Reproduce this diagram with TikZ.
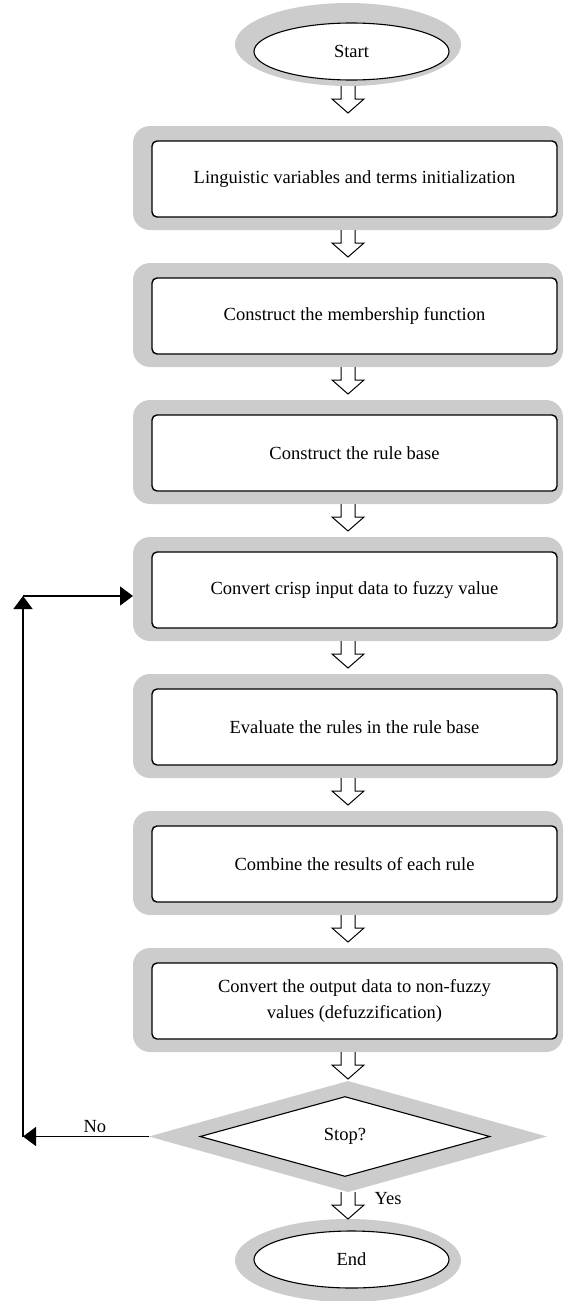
\documentclass[tikz,border=0pt]{standalone}
\usepackage{fontspec}
\setmainfont{Liberation Serif}
\usepackage{tikz}
\usetikzlibrary{positioning,arrows.meta,shapes.geometric}

\tikzset{
  shell/.style={fill=gray!40, draw=none, inner sep=0pt, outer sep=0pt},
  boxshell/.style={shell, rectangle, rounded corners=17pt, minimum width=430pt, minimum height=104pt},
  termshell/.style={shell, ellipse, minimum width=226pt, minimum height=83pt},
  testshell/.style={shell, diamond, minimum width=398pt, minimum height=111pt},
  stepbox/.style={rectangle, draw, line width=1.4pt, fill=white, rounded corners=5pt,
    minimum width=405pt, minimum height=76pt, align=center},
  termbox/.style={ellipse, draw, line width=1.1pt, fill=white, minimum width=195pt, minimum height=57pt},
  testbox/.style={diamond, draw, line width=1.1pt, fill=white, inner sep=0pt,
    minimum width=290pt, minimum height=80pt},
  hollow/.style={draw, fill=white, line width=1pt,
    to path={(\tikztostart) ++(-7,0) -- ++(0,13) -- ++(-9,0) -- ++(16,14) -- ++(16,-14) -- ++(-9,0) -- ++(0,-13)}},
  back/.style={-{Triangle[length=13pt,width=19pt]}, line width=1.2pt}
}

\begin{document}
\begin{tikzpicture}[x=1pt, y=-1pt, font=\fontsize{18.5}{26}\selectfont]
  \useasboundingbox (0,0) rectangle (563,1301);

  % grey backings of the steps
  \node (startshell) [termshell] at (348,44.5) {};
  \node (s1) [boxshell, below=40pt of startshell] {};
  \node (s2) [boxshell, below=33pt of s1] {};
  \node (s3) [boxshell, below=33pt of s2] {};
  \node (s4) [boxshell, below=33pt of s3] {};
  \node (s5) [boxshell, below=33pt of s4] {};
  \node (s6) [boxshell, below=33pt of s5] {};
  \node (s7) [boxshell, below=33pt of s6] {};
  \node (stopshell) [testshell, below=29pt of s7] {};
  \node (endshell) [termshell, below=27pt of stopshell] {};

  % the steps themselves
  \node (start) [termbox] at ([xshift=3.5pt, yshift=-7pt]startshell) {Start};
  \node (init) [stepbox] at ([xshift=6.5pt, yshift=-1pt]s1) {Linguistic variables and terms initialization};
  \node (member) [stepbox] at ([xshift=6.5pt, yshift=-1pt]s2) {Construct the membership function};
  \node (rules) [stepbox] at ([xshift=6.5pt, yshift=-1pt]s3) {Construct the rule base};
  \node (fuzzify) [stepbox] at ([xshift=6.5pt, yshift=-1pt]s4) {Convert crisp input data to fuzzy value};
  \node (evaluate) [stepbox] at ([xshift=6.5pt, yshift=-1pt]s5) {Evaluate the rules in the rule base};
  \node (combine) [stepbox] at ([xshift=6.5pt, yshift=-1pt]s6) {Combine the results of each rule};
  \node (defuzzify) [stepbox] at ([xshift=6.5pt, yshift=-1pt]s7) {Convert the output data to non-fuzzy\\values (defuzzification)};
  \node (stop) [testbox] at ([xshift=-3pt]stopshell) {Stop?};
  \node (end) [termbox] at ([xshift=3.5pt, yshift=1pt]endshell) {End};

  % hollow arrows down the chain
  \path (startshell.south) edge [hollow] (s1.north);
  \path (s1.south) edge [hollow] (s2.north);
  \path (s2.south) edge [hollow] (s3.north);
  \path (s3.south) edge [hollow] (s4.north);
  \path (s4.south) edge [hollow] (s5.north);
  \path (s5.south) edge [hollow] (s6.north);
  \path (s6.south) edge [hollow] (s7.north);
  \path (s7.south) edge [hollow] (stopshell.north);
  \path (stopshell.south) edge [hollow] (endshell.north);
  \node (yes) at ([xshift=40pt, yshift=-7pt]stopshell.south) {Yes};

  % loop back when not stopping
  \coordinate (corner) at (23,1136.5);
  \coordinate (rise) at (23,596);
  \draw[back] (stopshell.west) -- node[above, pos=0.43] {No} (corner);
  \draw[back] (corner) -- (rise);
  \draw[back] (rise) -- (rise -| s4.west);
\end{tikzpicture}
\end{document}
